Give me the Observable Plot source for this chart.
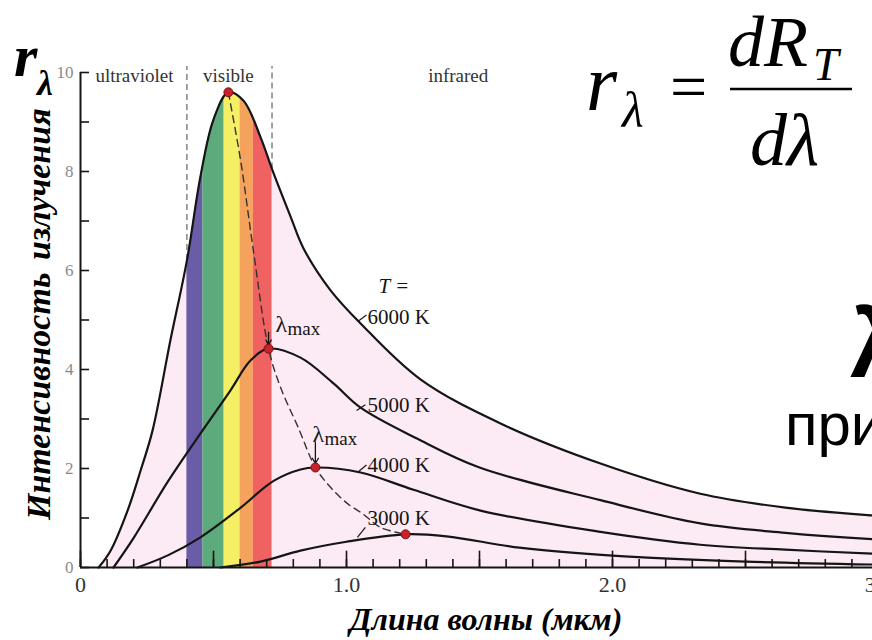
<!DOCTYPE html>
<html>
<head>
<meta charset="utf-8">
<script src="https://cdn.jsdelivr.net/npm/d3@7"></script>
<script src="https://cdn.jsdelivr.net/npm/@observablehq/plot@0.6"></script>
<style>
  html, body { margin: 0; padding: 0; background: #fff; }
  #chart { position: relative; width: 872px; height: 640px; overflow: hidden; }
  #chart svg { display: block; max-width: none !important; width: 900px; height: 640px !important; }
</style>
</head>
<body>
<div id="chart"></div>
<script>
// Spectral radiance r_λ (arbitrary units) against wavelength λ (µm)
const lambda6000 = [0.068, 0.113, 0.177, 0.226, 0.271, 0.338, 0.40, 0.451, 0.50, 0.556, 0.613, 0.677, 0.72, 0.789, 0.838, 0.94, 1.053, 1.278, 1.579, 1.955, 2.33, 2.65, 2.98, 3.06];
const r6000      = [0, 0.34, 1.15, 1.96, 2.77, 4.59, 6.2, 7.9, 9.05, 9.6, 9.43, 8.69, 8.05, 7.1, 6.45, 5.6, 4.93, 3.8, 2.91, 2.1, 1.49, 1.21, 1.05, 1.02];

const lambda5000 = [0.124, 0.2, 0.33, 0.459, 0.564, 0.639, 0.707, 0.827, 0.951, 1.053, 1.267, 1.5, 1.955, 2.33, 2.65, 2.98, 3.06];
const r5000      = [0, 0.6, 1.75, 2.77, 3.58, 4.18, 4.42, 4.24, 3.72, 3.23, 2.6, 2.02, 1.36, 0.89, 0.7, 0.57, 0.55];

const lambda4000 = [0.214, 0.33, 0.451, 0.6, 0.726, 0.827, 0.883, 1.053, 1.252, 1.504, 1.955, 2.33, 2.65, 2.98, 3.06];
const r4000      = [0, 0.25, 0.61, 1.2, 1.75, 1.98, 2.02, 1.92, 1.57, 1.15, 0.72, 0.46, 0.36, 0.28, 0.27];

const lambda3000 = [0.526, 0.677, 0.827, 1.0, 1.222, 1.376, 1.65, 2.0, 2.5, 2.98, 3.06];
const r3000      = [0, 0.12, 0.34, 0.52, 0.67, 0.63, 0.4, 0.24, 0.12, 0.06, 0.055];

// Locus of the maxima (Wien displacement), dashed
const locusLambda = [0.556, 0.602, 0.65, 0.707, 0.752, 0.82, 0.883, 0.94, 1.004, 1.06, 1.128, 1.222];
const locusR      = [9.6, 8.22, 6.4, 4.42, 3.64, 2.81, 2.02, 1.62, 1.29, 1.09, 0.81, 0.67];

// Maxima of each curve
const temperatures = [6000, 5000, 4000, 3000];
const peakLambda   = [0.556, 0.707, 0.883, 1.222];
const peakR        = [9.6, 4.42, 2.02, 0.67];

// Visible spectrum bands
const bandEdges  = [0.40, 0.46, 0.54, 0.60, 0.65, 0.72];
const bandColors = ["#6b5ca8", "#5daa7d", "#f5ef66", "#f5a35c", "#f06262"];

// Axis ticks
const xMinorTicks = d3.range(0, 31).map(i => i / 10);
const xMajorTicks = [0, 0.5, 1, 1.5, 2, 2.5, 3];
const xTickLabels = ["0", "1.0", "2.0", "3.0"];
const xLabelValues = [0, 1, 2, 3];
const yTicks = d3.range(0, 11);
const yLabelValues = [0, 2, 4, 6, 8, 10];

const curveLabels = ["6000 K", "5000 K", "4000 K", "3000 K"];
const regionNames = ["ultraviolet", "visible", "infrared"];

// ---- tables for the marks ----
const toRows = (T, xs, ys) => xs.map((x, i) => ({T, lambda: x, r: ys[i]}));
const rows6000 = toRows(6000, lambda6000, r6000);
const curves = [
  ...rows6000,
  ...toRows(5000, lambda5000, r5000),
  ...toRows(4000, lambda4000, r4000),
  ...toRows(3000, lambda3000, r3000)
];
const locus = locusLambda.map((x, i) => ({lambda: x, r: locusR[i]}));
const peaks = temperatures.map((T, i) => ({T, lambda: peakLambda[i], r: peakR[i]}));
const bands = bandColors.map((c, i) => ({from: bandEdges[i], to: bandEdges[i + 1], color: c}));
const visibleLimits = rows6000.filter(d => d.lambda === bandEdges[0] || d.lambda === bandEdges[bandEdges.length - 1]);

// label leaders: from the curve out to the text
const labelNotes = [
  {text: curveLabels[0], x1: 1.045, y1: 4.98, x2: 1.075, y2: 5.1},
  {text: curveLabels[1], x1: 1.038, y1: 3.17, x2: 1.071, y2: 3.29},
  {text: curveLabels[2], x1: 1.041, y1: 1.92, x2: 1.075, y2: 2.07},
  {text: curveLabels[3], x1: 1.041, y1: 0.61, x2: 1.071, y2: 0.81}
];
const labelText = [
  {text: curveLabels[0], x: 1.079, y: 5.05},
  {text: curveLabels[1], x: 1.079, y: 3.27},
  {text: curveLabels[2], x: 1.079, y: 2.06},
  {text: curveLabels[3], x: 1.079, y: 0.99}
];
// λmax callouts for 5000 K and 4000 K
const lmax = [
  {x: 0.733, y: 4.75, peak: peaks[1]},
  {x: 0.872, y: 2.53, peak: peaks[2]}
];
const regions = [
  {text: regionNames[0], x: 0.203},
  {text: regionNames[1], x: 0.556},
  {text: regionNames[2], x: 1.42}
];

const SERIF = "'Liberation Serif', 'Times New Roman', serif";
const SANS = "'Liberation Sans', Arial, sans-serif";
const INK = "#151515";

const plot = Plot.plot({
  width: 900,
  height: 640,
  marginLeft: 80,
  marginRight: 22,
  marginTop: 72,
  marginBottom: 73,
  x: {domain: [0, 3], axis: null},
  y: {domain: [0, 10], axis: null},
  style: {fontFamily: SERIF, background: "transparent", overflow: "visible", maxWidth: "none"},
  marks: [
    // soft pink fill under the 6000 K curve
    Plot.areaY(rows6000, {x: "lambda", y: "r", curve: "catmull-rom", fill: "#fcebf4"}),
    // visible spectrum bands, trimmed to the curve by the white cover above it
    Plot.rect(bands, {x1: "from", x2: "to", y1: 0, y2: 10.3, fill: "color"}),
    Plot.areaY(rows6000, {x: "lambda", y1: "r", y2: 10.4, curve: "catmull-rom", fill: "white"}),
    // dashed limits of the visible range, above the curve
    Plot.ruleX(visibleLimits, {x: "lambda", y1: "r", y2: 10.12, stroke: "#7a7a7a", strokeWidth: 1.4, strokeDasharray: "6,4"}),
    // region names
    Plot.text(regions, {x: "x", y: 9.8, text: "text", lineAnchor: "bottom", fontSize: 19, fill: "#333"}),
    // axes
    Plot.ruleY([0], {x1: 0, x2: 3.1, stroke: INK, strokeWidth: 2}),
    Plot.ruleX([0], {y1: 0, y2: 10, stroke: INK, strokeWidth: 2}),
    Plot.ruleY(yTicks, {y: d => d, x1: 0, x2: 0.034, stroke: INK, strokeWidth: 1.6}),
    Plot.ruleX(xMinorTicks, {x: d => d, y1: 0, y2: 0.16, stroke: INK, strokeWidth: 1.6}),
    Plot.ruleX(xMajorTicks, {x: d => d, y1: 0, y2: 0.33, stroke: INK, strokeWidth: 1.6}),
    Plot.text(yLabelValues, {x: 0, y: d => d, text: d => String(d), dx: -7, textAnchor: "end", fontSize: 17, fill: "#8a8a8a"}),
    Plot.text(xLabelValues, {x: d => d, y: 0, text: (d, i) => xTickLabels[i], dy: 17, fontSize: 22, fill: "#333"}),
    // blackbody curves
    Plot.line(curves, {x: "lambda", y: "r", z: "T", curve: "catmull-rom", stroke: INK, strokeWidth: 2.2}),
    // displacement locus of the maxima
    Plot.line(locus, {x: "lambda", y: "r", curve: "catmull-rom", stroke: "#333", strokeWidth: 1.4, strokeDasharray: "7,5"}),
    // λmax arrows
    Plot.arrow(lmax, {x1: d => d.peak.lambda, y1: "y", x2: d => d.peak.lambda, y2: d => d.peak.r, insetEnd: 4, headLength: 7, stroke: INK, strokeWidth: 1.3}),
    Plot.dot(peaks, {x: "lambda", y: "r", r: 4.5, fill: "#c8232c", stroke: "#7a1010", strokeWidth: 1}),
    Plot.text(lmax, {x: "x", y: "y", text: () => "λ", lineAnchor: "bottom", textAnchor: "start", fontSize: 24, fill: INK}),
    Plot.text(lmax, {x: "x", y: "y", text: () => "max", lineAnchor: "bottom", textAnchor: "start", dx: 12, dy: 3, fontSize: 19, fill: INK}),
    // curve labels with short leaders
    Plot.link(labelNotes, {x1: "x1", y1: "y1", x2: "x2", y2: "y2", stroke: INK, strokeWidth: 1.2}),
    Plot.text(labelText, {x: "x", y: "y", text: "text", textAnchor: "start", fontSize: 21, fill: INK}),
    Plot.text(["T ="], {x: 1.12, y: 5.68, textAnchor: "start", fontSize: 21, fontStyle: "italic", fill: INK})
  ]
});

document.getElementById("chart").appendChild(plot);

// Titles and the defining formula
const svg = d3.select(plot);
const deco = svg.append("g").attr("font-family", SERIF).attr("fill", "#000").attr("text-anchor", "start");

// r_λ = dR_T / dλ
const f = deco.append("g").attr("font-style", "italic");
f.append("text").attr("x", 586).attr("y", 110).attr("font-size", 80).text("r");
f.append("text").attr("x", 622).attr("y", 127).attr("font-size", 50).text("λ");
deco.append("text").attr("x", 670).attr("y", 109).attr("font-size", 66).text("=");
f.append("text").attr("x", 728).attr("y", 66).attr("font-size", 72).text("dR");
f.append("text").attr("x", 813).attr("y", 80).attr("font-size", 46).text("T");
deco.append("line").attr("x1", 730).attr("x2", 852).attr("y1", 89).attr("y2", 89).attr("stroke", "#000").attr("stroke-width", 2.5);
f.append("text").attr("x", 750).attr("y", 165).attr("font-size", 74).text("dλ");

// vertical axis name r_λ
const rl = deco.append("g").attr("font-weight", "bold").attr("font-style", "italic");
rl.append("text").attr("x", 14).attr("y", 76).attr("font-size", 60).text("r");
rl.append("text").attr("x", 37).attr("y", 95).attr("font-size", 36).text("λ");

// rotated y title
const yt = deco.append("g").attr("font-weight", "bold").attr("font-style", "italic").attr("font-size", 34);
yt.append("text").attr("transform", "translate(50,520) rotate(-90)").text("Интенсивность");
yt.append("text").attr("transform", "translate(50,260) rotate(-90)").text("излучения");

// x title
deco.append("text").attr("x", 486).attr("y", 630).attr("text-anchor", "middle")
  .attr("font-weight", "bold").attr("font-style", "italic").attr("font-size", 32)
  .text("Длина волны (мкм)");

// large text running off the right edge
deco.append("text").attr("x", 850).attr("y", 377).attr("font-family", SANS).attr("font-weight", "bold").attr("font-size", 96).text("λ");
deco.append("text").attr("x", 785).attr("y", 445).attr("font-family", SANS).attr("font-size", 60).text("при");
</script>
</body>
</html>
